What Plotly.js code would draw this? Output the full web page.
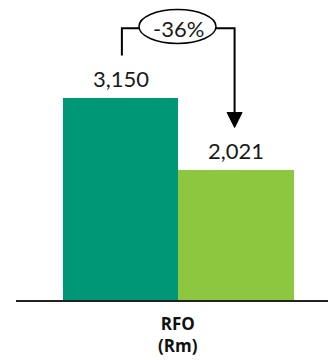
<!DOCTYPE html>
<html>
<head>
<meta charset="utf-8">
<script src="https://cdn.plot.ly/plotly-3.0.1.min.js"></script>
<style>html,body{margin:0;padding:0;background:#fff;}#chart{width:328px;height:360px;}</style>
</head>
<body>
<div id="chart"></div>
<script>
var categories = ["Prior", "Current"];
var values = [3150, 2021];
var barColors = ["#009777", "#8DC63F"];
var axisLabel = ["RFO", "(Rm)"];

var xs = categories.map(function (c, i) { return i; });
var pct = Math.round((values[1] / values[0] - 1) * 100);
var pctText = (pct > 0 ? "+" : "") + pct + "%";

function fmt(v) { return v.toLocaleString("en-US"); }

var trace = {
  type: "bar",
  x: xs,
  y: values,
  width: 1,
  marker: { color: barColors, line: { width: 0 } },
  hoverinfo: "skip",
  name: "RFO"
};

var numFont = { family: "Lato", size: 22, color: "#1a1a1a" };
var annotations = values.map(function (v, i) {
  return {
    x: xs[i], y: v, xref: "x", yref: "y",
    text: fmt(v), showarrow: false,
    yanchor: "bottom", yshift: 4,
    font: numFont
  };
});
var bracketY = 4240;
annotations.push({
  x: 0.5, y: bracketY, xref: "x", yref: "y",
  text: pctText, showarrow: false,
  font: numFont
});
annotations.push({
  x: 0.5, y: 0, xref: "x", yref: "paper",
  text: axisLabel.map(function (s) { return "<b>" + s + "</b>"; }).join("<br>"),
  showarrow: false, yanchor: "top", yshift: -10,
  font: { family: "Open Sans", size: 17, color: "#111" }
});

var lineStyle = { color: "#000", width: 2 };
var shapes = [
  { type: "path", xref: "x", yref: "y",
    path: "M 0.012 3814 L 0.012 " + bracketY + " L 0.16 " + bracketY,
    line: lineStyle },
  { type: "path", xref: "x", yref: "y",
    path: "M 0.827 " + bracketY + " L 0.988 " + bracketY + " L 0.988 2925",
    line: lineStyle },
  { type: "path", xref: "x", yref: "y",
    path: "M 0.923 2925 L 1.053 2925 L 0.988 2691 Z",
    fillcolor: "#000", line: { color: "#000", width: 1 } },
  { type: "circle", xref: "x", yref: "y",
    x0: 0.16, x1: 0.827, y0: 4001, y1: 4532,
    fillcolor: "#fff", line: { color: "#000", width: 1.5 } }
];

var layout = {
  width: 328, height: 360,
  margin: { l: 16, r: 0, t: 0, b: 60, pad: 0 },
  paper_bgcolor: "#fff", plot_bgcolor: "#fff",
  showlegend: false,
  bargap: 0,
  xaxis: {
    type: "linear",
    range: [-0.905, 1.797],
    showticklabels: false,
    ticks: "", showgrid: false, zeroline: false,
    showline: true, linecolor: "#222", linewidth: 2,
    fixedrange: true
  },
  yaxis: {
    range: [0, 4680], visible: false, showgrid: false, zeroline: false, fixedrange: true
  },
  annotations: annotations,
  shapes: shapes
};

Plotly.newPlot("chart", [trace], layout, { displayModeBar: false, staticPlot: true });
</script>
</body>
</html>
